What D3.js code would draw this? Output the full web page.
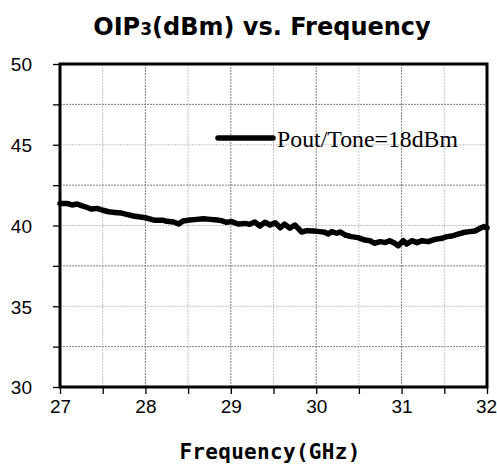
<!DOCTYPE html>
<html lang="en">
<head>
  <meta charset="UTF-8">
  <title>OIP3 vs. Frequency</title>
  <script src="https://d3js.org/d3.v7.min.js"></script>
  <style>
    body { margin: 0; background-color: white; }
    svg { display: block; }
  </style>
</head>
<body>
  <div id="chart"></div>
  <script>
    // data
    const freq = [27.00, 27.08, 27.14, 27.20, 27.25, 27.31, 27.37, 27.43, 27.49, 27.57,
      27.64, 27.72, 27.78, 27.86, 27.92, 28.00, 28.07, 28.11, 28.21, 28.25,
      28.33, 28.39, 28.44, 28.52, 28.60, 28.68, 28.76, 28.84, 28.89, 28.95,
      29.01, 29.09, 29.17, 29.22, 29.28, 29.34, 29.40, 29.46, 29.52, 29.58,
      29.63, 29.69, 29.75, 29.83, 29.89, 29.97, 30.04, 30.10, 30.14, 30.18,
      30.24, 30.28, 30.34, 30.41, 30.49, 30.57, 30.63, 30.68, 30.75, 30.81,
      30.86, 30.92, 30.96, 31.02, 31.06, 31.12, 31.18, 31.24, 31.31, 31.39,
      31.47, 31.53, 31.59, 31.66, 31.74, 31.80, 31.86, 31.92, 31.96, 32.00];
    const oip3 = [41.37, 41.37, 41.27, 41.33, 41.23, 41.13, 41.02, 41.06, 40.96, 40.85,
      40.81, 40.77, 40.69, 40.59, 40.54, 40.48, 40.38, 40.32, 40.32, 40.26,
      40.22, 40.09, 40.28, 40.34, 40.38, 40.42, 40.38, 40.34, 40.30, 40.20,
      40.24, 40.09, 40.13, 40.07, 40.22, 39.97, 40.20, 40.03, 40.17, 39.86,
      40.09, 39.83, 40.03, 39.60, 39.68, 39.66, 39.62, 39.58, 39.47, 39.62,
      39.52, 39.60, 39.41, 39.31, 39.25, 39.10, 39.06, 38.90, 39.00, 38.94,
      39.06, 38.90, 38.75, 39.06, 38.85, 39.06, 38.94, 39.06, 39.00, 39.14,
      39.21, 39.31, 39.35, 39.47, 39.58, 39.62, 39.66, 39.83, 39.93, 39.85];
    const xTicks = [27, 28, 29, 30, 31, 32];
    const xGrid = [27.5, 28, 28.5, 29, 29.5, 30, 30.5, 31, 31.5];
    const yTicks = [30, 35, 40, 45, 50];
    const yGrid = [32.5, 35, 37.5, 40, 42.5, 45, 47.5];
    const seriesName = "Pout/Tone=18dBm";

    let width = 497;
    let height = 468;
    let margin = { top: 64, right: 10, bottom: 81, left: 60 };

    let svg = d3.select("#chart")
      .append("svg")
      .attr("width", width)
      .attr("height", height);

    const xScale = d3.scaleLinear().domain([27, 32]).range([margin.left, width - margin.right]);
    const yScale = d3.scaleLinear().domain([30, 50]).range([height - margin.bottom, margin.top]);

    // grid lines - integer GHz and x.5 dB lines a bit darker
    svg.append("g").selectAll("line")
      .data(xGrid)
      .join("line")
      .attr("x1", d => xScale(d)).attr("x2", d => xScale(d))
      .attr("y1", yScale(30)).attr("y2", yScale(50))
      .attr("stroke", d => Number.isInteger(d) ? "#808080" : "#c4c4c4")
      .attr("stroke-width", 1)
      .attr("stroke-dasharray", "2,1");
    svg.append("g").selectAll("line")
      .data(yGrid)
      .join("line")
      .attr("x1", xScale(27)).attr("x2", xScale(32))
      .attr("y1", d => yScale(d)).attr("y2", d => yScale(d))
      .attr("stroke", d => d % 5 != 0 ? "#808080" : "#c4c4c4")
      .attr("stroke-width", 1)
      .attr("stroke-dasharray", "2,1");

    // axes: minor ticks every 0.5 GHz / 2.5 dB
    let xAxis = d3.axisBottom(xScale)
      .tickValues(d3.range(27, 32.01, 0.5))
      .tickSize(7)
      .tickFormat(d => xTicks.includes(d) ? d : "");
    let yAxis = d3.axisLeft(yScale)
      .tickValues(d3.range(30, 50.01, 2.5))
      .tickSize(7)
      .tickFormat(d => yTicks.includes(d) ? d : "");

    let gx = svg.append("g")
      .attr("transform", "translate(0," + yScale(30) + ")")
      .call(xAxis);
    let gy = svg.append("g")
      .attr("transform", "translate(" + xScale(27) + ",0)")
      .call(yAxis);
    [gx, gy].forEach(g => {
      g.select(".domain").remove();
      g.selectAll(".tick line").attr("stroke", "black").attr("stroke-width", 1.3);
      g.selectAll("text")
        .style("font-family", "'Liberation Sans', sans-serif")
        .style("font-size", "19px")
        .attr("fill", "black");
    });
    gx.selectAll("text").attr("y", 13).attr("dy", "0.71em");
    gy.selectAll("text").attr("x", -28).attr("dy", "0.36em");
    // keep the last x label inside the page
    gx.selectAll(".tick text").filter(d => d == 32).attr("dx", -1);

    // plot frame
    svg.append("rect")
      .attr("x", xScale(27))
      .attr("y", yScale(50))
      .attr("width", xScale(32) - xScale(27))
      .attr("height", yScale(30) - yScale(50))
      .attr("fill", "none")
      .attr("stroke", "black")
      .attr("stroke-width", 3);

    // the curve
    let points = freq.map((f, i) => [f, oip3[i]]);
    let line = d3.line()
      .x(d => xScale(d[0]))
      .y(d => yScale(d[1]));
    svg.append("path")
      .datum(points)
      .attr("d", line)
      .attr("fill", "none")
      .attr("stroke", "black")
      .attr("stroke-width", 5.5)
      .attr("stroke-linejoin", "round")
      .attr("stroke-linecap", "round");

    // legend
    svg.append("line")
      .attr("x1", 218).attr("x2", 273)
      .attr("y1", 138).attr("y2", 138)
      .attr("stroke", "black")
      .attr("stroke-width", 5.5)
      .attr("stroke-linecap", "round");
    svg.append("text")
      .attr("x", 277)
      .attr("y", 146.5)
      .attr("textLength", 181)
      .attr("lengthAdjust", "spacingAndGlyphs")
      .style("font-family", "'Liberation Serif', serif")
      .style("font-size", "23px")
      .text(seriesName);

    // title
    let title = svg.append("text")
      .attr("x", 262)
      .attr("y", 35)
      .style("text-anchor", "middle")
      .style("font-family", "'DejaVu Sans', sans-serif")
      .style("font-weight", "bold")
      .style("font-size", "24px");
    title.append("tspan").text("OIP");
    title.append("tspan").style("font-size", "17px").text("3");
    title.append("tspan").text("(dBm) vs. Frequency");

    // x axis title
    svg.append("text")
      .attr("x", 270)
      .attr("y", 459)
      .style("text-anchor", "middle")
      .style("font-family", "'DejaVu Sans Mono', monospace")
      .style("font-weight", "bold")
      .style("font-size", "21px")
      .style("letter-spacing", "0.3px")
      .text("Frequency(GHz)");
  </script>
</body>
</html>
